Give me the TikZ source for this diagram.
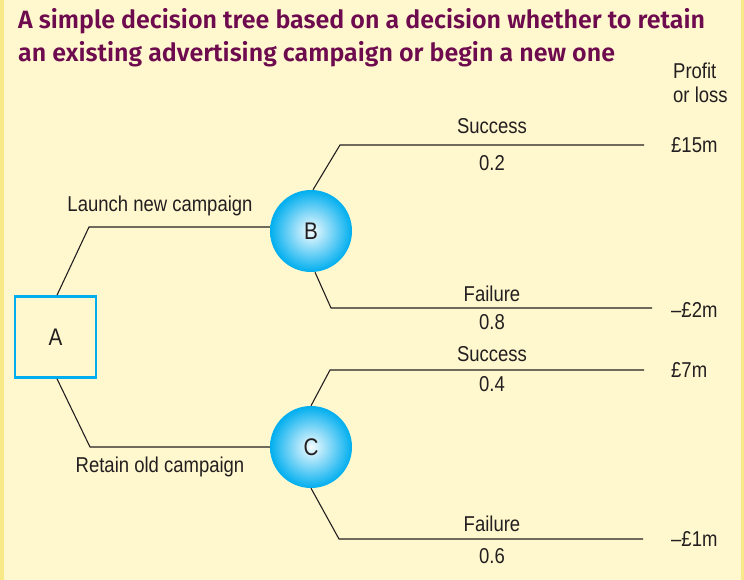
\documentclass[tikz,border=0pt]{standalone}
\usepackage{fontspec}
\setmainfont{Liberation Sans}[FakeStretch=0.86]
\newfontfamily\titlefont{Fira Sans}[BoldFont={Fira Sans SemiBold}]
\usetikzlibrary{shadings}
\definecolor{bgyel}{HTML}{FFF8CE}
\definecolor{edgeyel}{HTML}{F8E888}
\definecolor{cyanb}{HTML}{00AEEF}
\definecolor{titlepurple}{HTML}{6E0A4E}
\definecolor{lineblk}{HTML}{231F20}
\begin{document}
\begin{tikzpicture}[x=1pt,y=-1pt,
  lbl/.style={font=\fontsize{21.5}{24}\selectfont, text=lineblk, inner sep=0pt},
  branch/.style={draw=lineblk, line width=1.1pt},
  decbox/.style={draw=cyanb, line width=2.6pt, minimum width=81pt, minimum height=81pt, inner sep=0pt, font=\fontsize{24}{26}\selectfont, text=lineblk},
  chance/.style={circle, minimum size=82pt, inner sep=0pt, inner color=cyanb!4!white, outer color=cyanb, font=\fontsize{24}{26}\selectfont, text=lineblk},
  titletxt/.style={font=\titlefont\bfseries\fontsize{25}{33}\selectfont, text=titlepurple, anchor=north west, inner sep=0pt, align=left}]
\fill[bgyel] (0,0) rectangle (744,580);
\fill[edgeyel] (0,0) rectangle (3.5,580);
\fill[edgeyel] (740.5,0) rectangle (744,580);
\useasboundingbox (0,0) rectangle (744,580);

\node[titletxt] (title) at (18,8) {A simple decision tree based on a decision whether to retain\\an existing advertising campaign or begin a new one};

\node[lbl, align=left, anchor=north west] (pl) at (673,63) {Profit\\or loss};

\node[decbox] (A) at (55.5,337) {A};
\node[chance] (B) at (311,231) {B};
\node[chance] (C) at (311,447) {C};

% bends and ends
\coordinate (a1) at (89,227);
\coordinate (a2) at (90,447);
\coordinate (b1) at (340,145);
\coordinate (b1e) at (644,145);
\coordinate (b2) at (331,308);
\coordinate (b2e) at (652,308);
\coordinate (c1) at (330,370);
\coordinate (c1e) at (644,370);
\coordinate (c2) at (339,539);
\coordinate (c2e) at (643,539);

\draw[branch] (A.north) ++(1.5,0) coordinate (At) (At) -- (a1) -- (a1 -| B.west);
\draw[branch] (A.south) ++(1.5,0) coordinate (Ab) (Ab) -- (a2) -- (C.west);
\draw[branch] (B.north) ++(2,0) coordinate (Btop) (Btop) -- (b1) -- (b1e);
\draw[branch] (B.south) ++(4,0) coordinate (Bbot) (Bbot) -- (b2) -- (b2e);
\draw[branch] (C.north) coordinate (Ctop) (Ctop) -- (c1) -- (c1e);
\draw[branch] (C.south) coordinate (Cbot) (Cbot) -- (c2) -- (c2e);

\node[lbl] (lnc) at (160,206) {Launch new campaign};
\node[lbl] (roc) at (160,467) {Retain old campaign};

\node[lbl] (s1) at (492,126) {Success};
\node[lbl] (p1) at (492,163) {0.2};
\node[lbl] (f1) at (492,294) {Failure};
\node[lbl] (p2) at (492,322) {0.8};
\node[lbl] (s2) at (492,354) {Success};
\node[lbl] (p3) at (492,384) {0.4};
\node[lbl] (f2) at (492,524) {Failure};
\node[lbl] (p4) at (492,556) {0.6};

\node[lbl, anchor=west] (v1) at (671,145) {£15m};
\node[lbl, anchor=west] (v2) at (671,310) {–£2m};
\node[lbl, anchor=west] (v3) at (671,370) {£7m};
\node[lbl, anchor=west] (v4) at (671,539) {–£1m};
\end{tikzpicture}
\end{document}
